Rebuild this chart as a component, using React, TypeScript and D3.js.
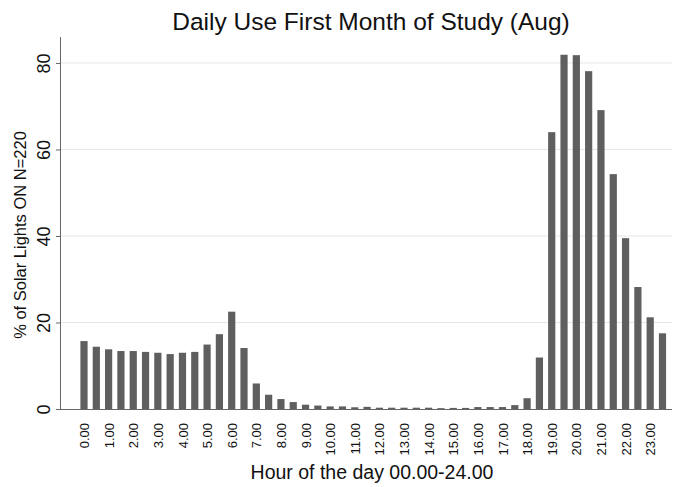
import React, { useEffect, createRef } from "react";
import * as d3 from "d3";

const width = 675;
const height = 487;
const margin = { top: 37, right: 3, bottom: 78, left: 61 };

// half-hour slots, 0.00 .. 23.30
const hours = d3.range(48).map(i => i / 2);
const values = [
  15.7, 14.4, 13.8, 13.4, 13.4, 13.2, 13.0, 12.7, 13.0, 13.2,
  14.9, 17.3, 22.5, 14.1, 5.9, 3.3, 2.3, 1.6, 1.0, 0.8,
  0.6, 0.6, 0.4, 0.5, 0.3, 0.3, 0.3, 0.3, 0.3, 0.2,
  0.25, 0.25, 0.45, 0.45, 0.45, 0.9, 2.5, 11.9, 64.0, 81.9,
  81.8, 78.1, 69.1, 54.3, 39.5, 28.2, 21.2, 17.5
];
const tickHours = d3.range(24);
const yTicks = [0, 20, 40, 60, 80];

const font = "'Liberation Sans', Arial, Helvetica, sans-serif";

export default function App() {
  const chartRef = createRef<SVGSVGElement>();

  useEffect(() => {
    const data = hours.map((h, i) => ({ hour: h, value: values[i] }));
    draw(data);
  }, []);

  const draw = (data: { hour: number; value: number }[]) => {
    const svg = d3.select(chartRef.current);
    svg.selectAll("*").remove();

    const x = d3
      .scaleLinear()
      .domain([0, 23.5])
      .range([84, 662.5]);

    const y = d3
      .scaleLinear()
      .domain([0, 86])
      .range([height - margin.bottom, margin.top]);

    // gridlines
    svg
      .append("g")
      .selectAll("line")
      .data(yTicks.filter(d => d > 0))
      .join("line")
      .attr("x1", margin.left)
      .attr("x2", width - margin.right)
      .attr("y1", d => y(d))
      .attr("y2", d => y(d))
      .attr("stroke", "#e6e6e6")
      .attr("stroke-width", 1);

    // bars
    svg
      .append("g")
      .attr("fill", "#5f5f5f")
      .selectAll("rect")
      .data(data)
      .join("rect")
      .attr("x", d => x(d.hour) - 3.6)
      .attr("width", 7.2)
      .attr("y", d => y(d.value))
      .attr("height", d => y(0) - y(d.value));

    // y axis
    const yAxis = svg
      .append("g")
      .attr("transform", `translate(${margin.left},0)`)
      .call(d3.axisLeft(y).tickValues(yTicks).tickSize(5))
      .call(g => g.select(".domain").attr("stroke", "#666").attr("d", `M-0.5,${margin.top}V${y(0)}`));
    yAxis.selectAll(".tick line").attr("stroke", "#666");
    yAxis
      .selectAll(".tick text")
      .attr("font-family", font)
      .attr("font-size", 18)
      .attr("fill", "#111")
      .attr("x", 0)
      .attr("y", 0)
      .attr("dy", 0)
      .attr("text-anchor", "middle")
      .attr("transform", "translate(-11,0) rotate(-90)");

    // x axis
    const xAxis = svg
      .append("g")
      .attr("transform", `translate(0,${y(0)})`)
      .call(d3.axisBottom(x).tickValues(tickHours).tickSize(0).tickFormat(d => d3.format(".2f")(d as number)))
      .call(g => g.select(".domain").attr("stroke", "#666").attr("d", `M${margin.left},0.5H${width - margin.right}`));
    xAxis
      .selectAll(".tick text")
      .attr("font-family", font)
      .attr("font-size", 13)
      .attr("fill", "#111")
      .attr("text-anchor", "end")
      .attr("y", 0)
      .attr("dy", "0.35em")
      .attr("transform", "translate(0,14) rotate(-90)");

    // titles
    svg
      .append("text")
      .attr("x", 371)
      .attr("y", 30)
      .attr("text-anchor", "middle")
      .attr("font-family", font)
      .attr("font-size", 24.5)
      .attr("fill", "#111")
      .text("Daily Use First Month of Study (Aug)");

    svg
      .append("text")
      .attr("x", 372)
      .attr("y", 479)
      .attr("text-anchor", "middle")
      .attr("font-family", font)
      .attr("font-size", 19.5)
      .attr("fill", "#111")
      .text("Hour of the day 00.00-24.00");

    svg
      .append("text")
      .attr("transform", `translate(26,235) rotate(-90)`)
      .attr("text-anchor", "middle")
      .attr("font-family", font)
      .attr("font-size", 16.5)
      .attr("fill", "#111")
      .text("% of Solar Lights ON N=220");
  };

  return (
    <svg
      ref={chartRef}
      width={width}
      height={height}
      style={{ position: "absolute", left: 0, top: 0, background: "#fff" }}
    />
  );
}
